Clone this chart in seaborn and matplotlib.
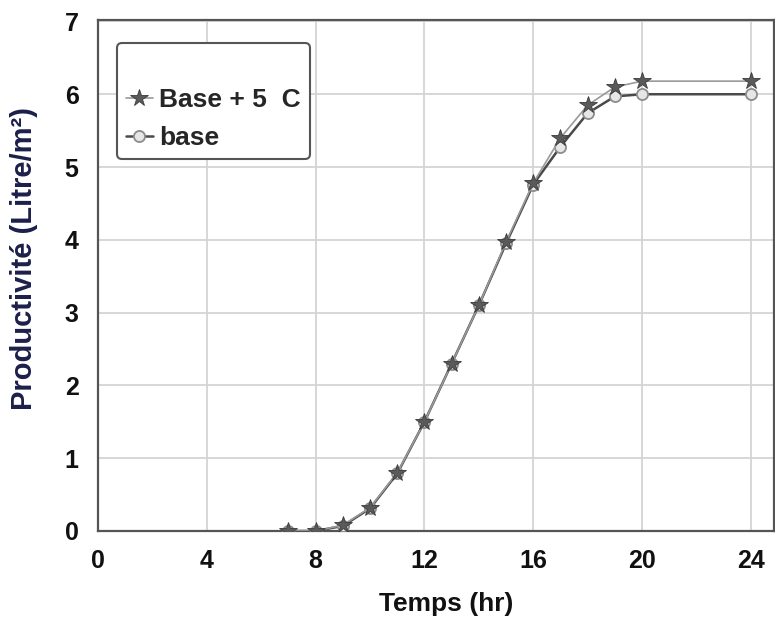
import numpy as np
import pandas as pd
import matplotlib
matplotlib.use("Agg")
import matplotlib.pyplot as plt
import seaborn as sns

# ---- data ----
hours = [7, 8, 9, 10, 11, 12, 13, 14, 15, 16, 17, 18, 19, 20, 24]
base_plus5 = [0.0, 0.0, 0.08, 0.32, 0.80, 1.50, 2.30, 3.10, 3.97, 4.78, 5.40, 5.85, 6.10, 6.18, 6.18]
base = [0.0, 0.0, 0.07, 0.31, 0.79, 1.50, 2.30, 3.10, 3.95, 4.76, 5.28, 5.74, 5.97, 6.00, 6.00]
series_names = ["Base + 5  C", "base"]
x_ticks = [0, 4, 8, 12, 16, 20, 24]
y_ticks = [0, 1, 2, 3, 4, 5, 6, 7]
x_label = "Temps (hr)"
y_label = "Productivité (Litre/m²)"

df_p5 = pd.DataFrame({"Temps": hours, "Prod": base_plus5})
df_b = pd.DataFrame({"Temps": hours, "Prod": base})

sns.set_theme(style="whitegrid")
plt.rcParams["font.family"] = ["Liberation Sans", "DejaVu Sans"]
plt.rcParams["font.weight"] = "bold"

fig = plt.figure(figsize=(7.75, 6.21), dpi=100)
ax = fig.add_axes([98 / 775, 1 - 531 / 621, 676 / 775, 511 / 621])
ax.set_facecolor("white")

sns.lineplot(data=df_b, x="Temps", y="Prod", ax=ax, color="#4a4a4a", linewidth=1.8,
             marker="o", markersize=8, markerfacecolor="#e6e6e6",
             markeredgecolor="#8c8c8c", markeredgewidth=1.3, label=series_names[1], zorder=3)
sns.lineplot(data=df_p5, x="Temps", y="Prod", ax=ax, color="#9a9a9a", linewidth=1.2,
             marker="*", markersize=13, markerfacecolor="#5a5a5a",
             markeredgecolor="#3a3a3a", markeredgewidth=0.6, label=series_names[0], zorder=4)

ax.set_xlim(0, 24.85)
ax.set_ylim(0, 7.02)
ax.set_xticks(x_ticks)
ax.set_yticks(y_ticks)
ax.grid(True, color="#d4d4d4", linewidth=1.3)
ax.tick_params(axis="both", length=0, labelsize=18, colors="#111111")
ax.tick_params(axis="x", pad=13)
ax.tick_params(axis="y", pad=14)
for lab in ax.get_xticklabels() + ax.get_yticklabels():
    lab.set_fontweight("bold")

for s in ax.spines.values():
    s.set_visible(True)
    s.set_color("#555555")
    s.set_linewidth(1.6)

ax.set_xlabel(x_label, fontsize=19, fontweight="bold", color="#111111", va="center")
ax.xaxis.set_label_coords(0.515, -0.143)
ax.set_ylabel(y_label, fontsize=21, fontweight="bold", color="#1b1f4a", va="center")
ax.yaxis.set_label_coords(-0.109, 0.534)

handles, labels = ax.get_legend_handles_labels()
order = [labels.index(series_names[0]), labels.index(series_names[1])]
leg = ax.legend([handles[i] for i in order], [labels[i] for i in order],
                loc="upper left", bbox_to_anchor=(0.028, 0.955), borderaxespad=0,
                title=" ", title_fontsize=16, prop={"weight": "bold", "size": 19},
                handlelength=1.0, handletextpad=0.25, borderpad=0.35, labelspacing=0.55,
                frameon=True, fancybox=True, framealpha=1, edgecolor="#555555",
                facecolor="white")
leg.get_frame().set_linewidth(1.5)

fig.savefig("out.png", dpi=100, facecolor="white")
